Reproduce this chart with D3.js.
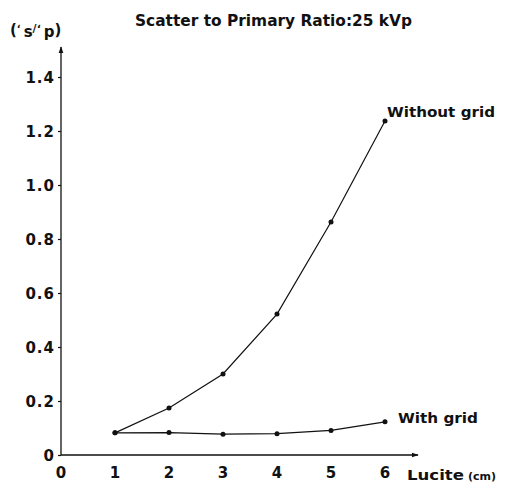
<!DOCTYPE html>
<html>
<head>
<meta charset="utf-8">
<script src="https://cdn.jsdelivr.net/npm/d3@7"></script>
<style>
  body { margin: 0; background: #fff; }
  text { font-family: "DejaVu Sans", "Liberation Sans", Arial, sans-serif; font-weight: bold; fill: #111; }
</style>
</head>
<body>
<script>
const width = 506;
const height = 485;

// lucite thickness (cm)
const lucite = [1, 2, 3, 4, 5, 6];
const withoutGrid = [0.082, 0.174, 0.30, 0.522, 0.863, 1.237];
const withGrid = [0.082, 0.083, 0.077, 0.079, 0.091, 0.123];
const yTicks = [0, 0.2, 0.4, 0.6, 0.8, 1.0, 1.2, 1.4];
const xTicks = [0, 1, 2, 3, 4, 5, 6];

const svg = d3.select('body').append('svg')
  .attr('width', width)
  .attr('height', height);

const x = d3.scaleLinear().domain([0, 6]).range([61, 385]);
const y = d3.scaleLinear().domain([0, 1.4]).range([455, 77]);

// title
svg.append('text')
  .attr('x', 135).attr('y', 26)
  .attr('textLength', 277).attr('lengthAdjust', 'spacingAndGlyphs')
  .style('font-size', '15px')
  .text('Scatter to Primary Ratio:25 kVp');

// y label
const yl = svg.append('text').attr('x', 10).attr('y', 37).style('font-size', '15px');
yl.append('tspan').attr('dy', -2).text('(');
yl.append('tspan').attr('dy', -3).style('font-size', '10px').text('ʻ');
yl.append('tspan').attr('dx', 3).attr('dy', 5).text('s');
yl.append('tspan').attr('dy', -5).style('font-size', '11px').text('/ʻ');
yl.append('tspan').attr('dx', 3).attr('dy', 5).text('p');
yl.append('tspan').attr('dy', -2).text(')');

// axes with arrows
svg.append('defs').append('marker')
  .attr('id', 'arrow')
  .attr('viewBox', '0 0 10 10')
  .attr('refX', 9).attr('refY', 5)
  .attr('markerWidth', 7).attr('markerHeight', 7)
  .attr('markerUnits', 'userSpaceOnUse')
  .attr('orient', 'auto')
  .append('path').attr('d', 'M0,1.5 L10,5 L0,8.5 Z').attr('fill', '#111');

svg.append('line')
  .attr('x1', x(0)).attr('y1', y(0))
  .attr('x2', x(0)).attr('y2', 47)
  .attr('stroke', '#111').attr('stroke-width', 1.3)
  .attr('marker-end', 'url(#arrow)');

svg.append('line')
  .attr('x1', x(0)).attr('y1', y(0))
  .attr('x2', 418).attr('y2', y(0))
  .attr('stroke', '#111').attr('stroke-width', 1.3)
  .attr('marker-end', 'url(#arrow)');

// y ticks
const yAxis = d3.axisLeft(y).tickValues(yTicks).tickSize(3).tickPadding(3)
  .tickFormat(d => d === 0 ? '0' : d3.format('.1f')(d));
const gy = svg.append('g').attr('transform', `translate(${x(0)},0)`).call(yAxis);
gy.select('.domain').remove();
gy.selectAll('line').attr('stroke', '#111').attr('stroke-width', 1.2);
gy.selectAll('text')
  .style('font-size', '15px')
  .style('letter-spacing', '1px')
  .style('font-family', '"DejaVu Sans", sans-serif')
  .style('font-weight', 'bold')
  .attr('fill', '#111')
  .attr('dy', '0.35em');

// x tick labels
svg.append('g').selectAll('text')
  .data(xTicks).enter().append('text')
  .attr('x', d => x(d)).attr('y', 478)
  .attr('text-anchor', 'middle')
  .style('font-size', '15px')
  .text(d => d);

const xl = svg.append('text')
  .attr('x', 407).attr('y', 480)
  .style('font-size', '14px');
xl.append('tspan').attr('textLength', 57).attr('lengthAdjust', 'spacingAndGlyphs').text('Lucite');
xl.append('tspan').attr('dx', 4).style('font-size', '11px').text('(cm)');

// series
const line = d3.line().x(d => x(d[0])).y(d => y(d[1]));
const series = [
  { name: 'Without grid', values: withoutGrid, lx: 387, ly: 117, len: 108 },
  { name: 'With grid', values: withGrid, lx: 398, ly: 423, len: 80 }
];

series.forEach(s => {
  const pts = lucite.map((l, i) => [l, s.values[i]]);
  svg.append('path')
    .attr('d', line(pts))
    .attr('fill', 'none')
    .attr('stroke', '#111')
    .attr('stroke-width', 1.2);
  svg.append('g').selectAll('circle')
    .data(pts).enter().append('circle')
    .attr('cx', d => x(d[0])).attr('cy', d => y(d[1]))
    .attr('r', 2.5).attr('fill', '#111');
  svg.append('text')
    .attr('x', s.lx).attr('y', s.ly)
    .attr('textLength', s.len).attr('lengthAdjust', 'spacingAndGlyphs')
    .style('font-size', '14px')
    .text(s.name);
});
</script>
</body>
</html>
